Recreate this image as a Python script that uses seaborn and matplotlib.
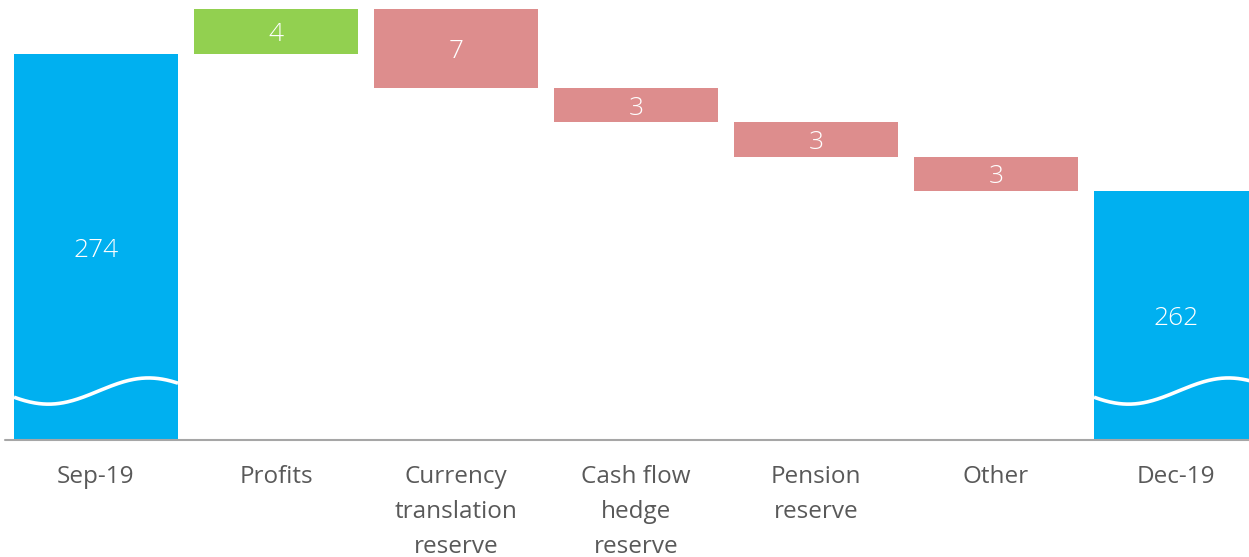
import numpy as np
import pandas as pd
import matplotlib
matplotlib.use("Agg")
import matplotlib.pyplot as plt
import seaborn as sns

# Waterfall data
categories = ["Sep-19", "Profits", "Currency\ntranslation\nreserve",
              "Cash flow\nhedge\nreserve", "Pension\nreserve", "Other", "Dec-19"]
start_value = 274
end_value = 262
changes = [4, -7, -3, -3, -3]
labels = ["274", "4", "7", "3", "3", "3", "262"]

blue = "#00B0F0"
green = "#92D050"
red = "#DD8D8D"

sns.set_theme(style="white")
plt.rcParams["font.family"] = ["Open Sans", "DejaVu Sans"]

# bar tops / bottoms for the floating segments
y_min, y_max = 240.1, 278.75
bottoms = [y_min]
heights = [start_value - y_min]
running = start_value
colors = [blue]
for c in changes:
    lo = min(running, running + c)
    bottoms.append(lo)
    heights.append(abs(c))
    colors.append(green if c > 0 else red)
    running += c
bottoms.append(y_min)
heights.append(end_value - y_min)
colors.append(blue)

df = pd.DataFrame({"category": categories, "height": heights})

fig = plt.figure(figsize=(12.49, 5.57), dpi=100)
ax = fig.add_axes([0, 117 / 557, 1, 440 / 557])

sns.barplot(data=df, x="category", y="height", order=categories, errorbar=None,
            width=0.911, bottom=np.array(bottoms), color=blue, ax=ax, linewidth=0)

for patch, col in zip(ax.patches, colors):
    patch.set_facecolor(col)
    patch.set_edgecolor(col)

ax.set_xlim(-96 / 180, (1249 - 96) / 180)
ax.set_ylim(y_min, y_max)

# white wave marking the broken axis on the total bars
t = np.linspace(0, 1, 200)
for i in (0, len(categories) - 1):
    p = ax.patches[i]
    x0, w = p.get_x(), p.get_width()
    wave = 244.4 - 1.15 * np.cos(2 * np.pi * (t - 0.21) / 1.22)
    ax.plot(x0 + t * w, wave, color="white", lw=2.6, zorder=5, solid_capstyle="butt")

# value labels
for i, (p, lab) in enumerate(zip(ax.patches, labels)):
    if i in (0, len(categories) - 1):
        yc = (p.get_y() + p.get_height() + y_min) / 2
    else:
        yc = p.get_y() + p.get_height() / 2
    ax.text(p.get_x() + p.get_width() / 2, yc - 0.27, lab, ha="center", va="center",
            color="white", fontsize=19, fontweight="light", zorder=6)

ax.plot([-91 / 180, (1249 - 96) / 180], [y_min, y_min], color="#A6A6A6", lw=1.5,
        zorder=4, clip_on=False)

sns.despine(ax=ax, left=True, bottom=True, top=True, right=True)
ax.set_yticks([])
ax.set_xlabel("")
ax.set_ylabel("")
ax.tick_params(axis="x", length=0, pad=18)
ax.set_xticks(range(len(categories)))
ax.set_xticklabels(categories, fontsize=17.5, color="#595959", linespacing=1.6,
                   va="top")

fig.savefig("out.png", dpi=100)
